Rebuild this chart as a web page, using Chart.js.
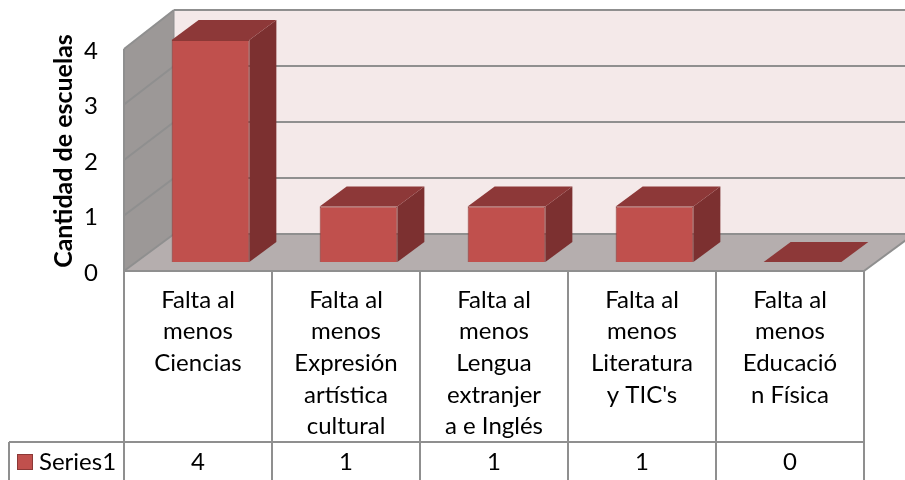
<!DOCTYPE html>
<html lang="es">
<head>
  <meta charset="UTF-8">
  <title>Cantidad de escuelas</title>
  <script src="https://cdn.jsdelivr.net/npm/chart.js"></script>
  <style>
    body { margin: 0; background: #fff; }
    #chart-container { width: 905px; height: 480px; }
  </style>
</head>
<body>
  <div id="chart-container">
    <canvas id="escuelasChart"></canvas>
  </div>
  <script>
    const categories = [
      ['Falta al', 'menos', 'Ciencias'],
      ['Falta al', 'menos', 'Expresión', 'artística', 'cultural'],
      ['Falta al', 'menos', 'Lengua', 'extranjer', 'a e Inglés'],
      ['Falta al', 'menos', 'Literatura', "y TIC's"],
      ['Falta al', 'menos', 'Educació', 'n Física']
    ];
    const seriesName = 'Series1';
    const seriesValues = [4, 1, 1, 1, 0];
    const yTicks = [0, 1, 2, 3, 4];
    const yTitle = 'Cantidad de escuelas';

    const fontName = 'Lato, "Open Sans", sans-serif';
    const lineGray = '#8f8f8f';

    function poly(ctx, pts, fill, stroke) {
      ctx.beginPath();
      pts.forEach((p, i) => i ? ctx.lineTo(p[0], p[1]) : ctx.moveTo(p[0], p[1]));
      ctx.closePath();
      if (fill) { ctx.fillStyle = fill; ctx.fill(); }
      if (stroke) { ctx.strokeStyle = stroke; ctx.lineWidth = 1; ctx.stroke(); }
    }

    function line(ctx, x1, y1, x2, y2, w) {
      ctx.beginPath();
      ctx.moveTo(x1, y1);
      ctx.lineTo(x2, y2);
      ctx.strokeStyle = lineGray;
      ctx.lineWidth = w || 2;
      ctx.stroke();
    }

    // fake 3D: walls, floor, bar sides and the table under the axis
    const box3d = {
      id: 'box3d',
      beforeDatasetsDraw(chart) {
        const { ctx, chartArea: a, scales: { x, y } } = chart;
        const dx = 50, dy = -37;
        const bottom = y.getPixelForValue(0);
        const front = v => y.getPixelForValue(v);
        // back wall is very slightly taller than the front plane
        const back = v => bottom + dy - (bottom - y.getPixelForValue(v)) * 224 / 222;
        const maxV = yTicks[yTicks.length - 1];

        // back wall
        poly(ctx, [[a.left + dx, back(maxV)], [a.right + dx, back(maxV)], [a.right + dx, back(0)], [a.left + dx, back(0)]], '#f4e9e9');
        // floor
        poly(ctx, [[a.left, bottom], [a.left + dx, back(0)], [a.right + dx, back(0)], [a.right, bottom]], '#b5aeae');
        // left wall
        poly(ctx, [[a.left, front(maxV)], [a.left + dx, back(maxV)], [a.left + dx, back(0)], [a.left, bottom]], '#9c9897');

        yTicks.forEach(v => {
          line(ctx, a.left, front(v), a.left + dx, back(v), 2);
          line(ctx, a.left + dx, back(v), a.right + dx, back(v), 2);
        });
        line(ctx, a.left, front(maxV), a.left, bottom, 2);
        line(ctx, a.left + dx, back(maxV), a.left + dx, back(0), 1);
        line(ctx, a.left, bottom, a.right, bottom, 2);
        line(ctx, a.right, bottom, a.right + dx, back(0), 2);

        // bars stand a little inside the floor
        ctx.save();
        ctx.translate(12.5, -9);
        const bx = 27, by = -20;
        chart.getDatasetMeta(0).data.forEach(bar => {
          const l = bar.x - bar.width / 2, r = bar.x + bar.width / 2;
          poly(ctx, [[r, bar.y], [r + bx, bar.y + by], [r + bx, bar.base + by], [r, bar.base]], '#7c3030');
          poly(ctx, [[l, bar.y], [l + bx, bar.y + by], [r + bx, bar.y + by], [r, bar.y]], '#8d3838');
        });
      },
      afterDatasetsDraw(chart) {
        const { ctx, chartArea: a, scales: { x, y } } = chart;
        ctx.restore();

        // table lines
        const rowY = 442;
        const step = (a.right - a.left) / categories.length;
        for (let i = 0; i <= categories.length; i++) {
          line(ctx, a.left + step * i, a.bottom, a.left + step * i, 480, 2);
        }
        line(ctx, 9, rowY, a.right, rowY, 2);
        line(ctx, 9, rowY, 9, 480, 2);

        // values row
        ctx.fillStyle = '#000';
        ctx.font = '24px ' + fontName;
        ctx.textBaseline = 'middle';
        ctx.textAlign = 'center';
        seriesValues.forEach((v, i) => ctx.fillText(String(v), x.getPixelForValue(i), 462));

        // legend key
        ctx.textAlign = 'left';
        ctx.fillText(seriesName, 39, 462);
        ctx.fillStyle = '#c0504d';
        ctx.strokeStyle = '#8c3836';
        ctx.lineWidth = 1;
        ctx.fillRect(17.5, 454.5, 15, 15);
        ctx.strokeRect(17.5, 454.5, 15, 15);

        // axis title
        ctx.save();
        ctx.translate(64, 151);
        ctx.rotate(-Math.PI / 2);
        ctx.textAlign = 'center';
        ctx.fillStyle = '#000';
        ctx.font = 'bold 25px ' + fontName;
        ctx.fillText(yTitle, 0, 0);
        ctx.restore();
      }
    };

    const ctx = document.getElementById('escuelasChart').getContext('2d');
    new Chart(ctx, {
      type: 'bar',
      data: {
        labels: categories,
        datasets: [{
          label: seriesName,
          data: seriesValues,
          backgroundColor: '#c0504d',
          borderColor: '#8c3836',
          borderWidth: 1,
          barPercentage: 0.525,
          categoryPercentage: 1,
          clip: false
        }]
      },
      options: {
        responsive: true,
        maintainAspectRatio: false,
        animation: false,
        layout: { padding: { top: 49, right: 41, bottom: 0, left: 0 } },
        plugins: {
          legend: { display: false },
          tooltip: { enabled: false }
        },
        scales: {
          x: {
            afterFit: s => { s.height = 209; },
            grid: { display: false },
            border: { display: false },
            ticks: {
              autoSkip: false,
              maxRotation: 0,
              padding: 5,
              color: '#000',
              font: { family: fontName, size: 24, lineHeight: 1.32 }
            }
          },
          y: {
            min: 0,
            max: 4,
            afterFit: s => { s.width = 124; },
            grid: { display: false },
            border: { display: false },
            ticks: {
              stepSize: 1,
              padding: 18,
              labelOffset: 2,
              color: '#000',
              font: { family: fontName, size: 24 }
            }
          }
        }
      },
      plugins: [box3d]
    });
  </script>
</body>
</html>
